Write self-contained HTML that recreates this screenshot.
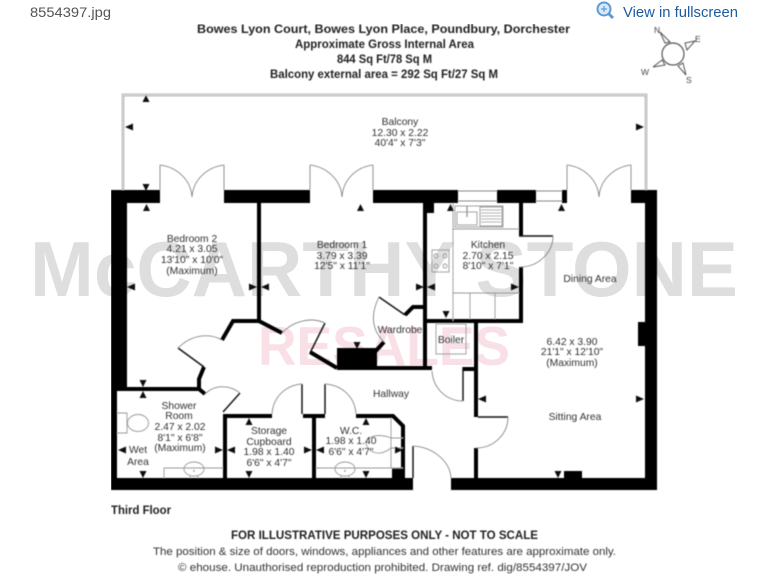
<!DOCTYPE html>
<html><head><meta charset="utf-8"><style>
html,body{margin:0;padding:0;background:#fff;width:768px;height:576px;overflow:hidden}
svg{display:block}
text{font-family:"Liberation Sans",sans-serif}
.r text{font-size:10.3px;fill:#333;text-anchor:middle}
.h text{font-size:11.5px;font-weight:bold;fill:#222;text-anchor:start}
.f text{font-size:11.3px;fill:#333}
.a{fill:none;stroke:#777;stroke-width:.8}
.w{fill:none;stroke:#000;stroke-width:4}
.t{fill:none;stroke:#999;stroke-width:.9}
</style></head><body>
<svg width="768" height="576" viewBox="0 0 768 576" xmlns="http://www.w3.org/2000/svg">
<defs><filter id="b" x="0" y="0" width="100%" height="100%"><feGaussianBlur stdDeviation="0.4"/></filter></defs>
<text x="30" y="17" font-size="14" fill="#555" textLength="81" lengthAdjust="spacingAndGlyphs">8554397.jpg</text>
<text x="623" y="17" font-size="15" fill="#1d5a9e" textLength="115" lengthAdjust="spacingAndGlyphs">View in fullscreen</text>
<g fill="none" stroke="#5b9bd5"><circle cx="604" cy="9" r="6.5" stroke-width="2" fill="#dbe9f7"/><path d="M609 14l4 4" stroke-width="3"/><path d="M601 9h6M604 6v6" stroke-width="1.2"/></g>

<text x="30" y="296" font-size="78" font-weight="bold" fill="#dedede" textLength="708" lengthAdjust="spacingAndGlyphs">McCARTHY STONE</text>
<text x="258" y="365" font-size="55" font-weight="bold" fill="#f8e0e6" textLength="252" lengthAdjust="spacingAndGlyphs">RESALES</text>

<g filter="url(#b)">
<g class="h">
<text x="197" y="33" textLength="373" lengthAdjust="spacingAndGlyphs">Bowes Lyon Court, Bowes Lyon Place, Poundbury, Dorchester</text>
<text x="295" y="48" textLength="179" lengthAdjust="spacingAndGlyphs">Approximate Gross Internal Area</text>
<text x="337" y="63" textLength="95" lengthAdjust="spacingAndGlyphs">844 Sq Ft/78 Sq M</text>
<text x="270" y="78" textLength="228" lengthAdjust="spacingAndGlyphs">Balcony external area = 292 Sq Ft/27 Sq M</text>
<text x="111" y="514" textLength="60" lengthAdjust="spacingAndGlyphs">Third Floor</text>
<text x="231" y="539" textLength="307" lengthAdjust="spacingAndGlyphs">FOR ILLUSTRATIVE PURPOSES ONLY - NOT TO SCALE</text>
</g>
<g class="f">
<text x="153" y="555" textLength="463" lengthAdjust="spacingAndGlyphs">The position &amp; size of doors, windows, appliances and other features are approximate only.</text>
<text x="178" y="571" textLength="409" lengthAdjust="spacingAndGlyphs">© ehouse. Unauthorised reproduction prohibited. Drawing ref. dig/8554397/JOV</text>
</g>

<!-- compass -->
<g fill="none" stroke="#555" stroke-width="1">
<circle cx="673" cy="54" r="11" stroke-width="1.2"/>
<path d="M660 32L665 43L670 42ZM695 41L685 43L687 50ZM653 67L662 60L665 65ZM686 75L678 66L683 63Z"/>
</g>
<g font-size="8.5" fill="#444"><text x="654" y="33">N</text><text x="695" y="42">E</text><text x="641" y="75">W</text><text x="686" y="83">S</text></g>

<!-- balcony -->
<path d="M123 190V95H646V190" fill="none" stroke="#999" stroke-width="2.4"/>
<path d="M123 190V95H646V190" fill="none" stroke="#fff" stroke-width=".7"/>

<!-- thick walls -->
<g fill="#000">
<rect x="111" y="190" width="49" height="13"/><rect x="224" y="190" width="86" height="13"/><rect x="373" y="190" width="85" height="13"/><rect x="497" y="190" width="39" height="13"/><rect x="562" y="190" width="5" height="13"/><rect x="631" y="190" width="26" height="13"/>
<rect x="111" y="190" width="16" height="201"/><rect x="111" y="390" width="6" height="100"/><rect x="645" y="190" width="12" height="300"/>
<rect x="638" y="322" width="8" height="24"/>
<rect x="111" y="478" width="302" height="12"/><rect x="451" y="478" width="206" height="12"/>
<rect x="564" y="471" width="18" height="8"/>
<rect x="427" y="203" width="7" height="10"/>
<rect x="337" y="348" width="40" height="20"/>
<rect x="392" y="468" width="13" height="11"/>
</g>
<g fill="none" stroke="#888" stroke-width="1"><path d="M458 191H497M458 201H497M536 191H562M536 201H562"/></g>

<!-- thin walls -->
<g class="w" stroke-linejoin="miter">
<path d="M259 203V321L282 333"/>
<path d="M259 321H233L222 340"/>
<path d="M204 367L199 379V390"/>
<path d="M117 389H199L205 394"/>
<path d="M225 478V416H272"/>
<path d="M303 416H325M314 416V478"/>
<path d="M356 416H393L403 426V478"/>
<path d="M384 342L373 354"/>
<path d="M337 368H432"/><path d="M337 368L310 352"/>
<path d="M405 315L413 307H425"/>
<path d="M425 203V369"/>
<path d="M427 321H521M521 203V236M521 267V323"/>
<path d="M463 369H476M476 321V417M476 448V479"/>
</g>

<!-- leaves and arcs -->
<g fill="none" stroke="#111" stroke-width="1.4">
<path d="M178 348L204 367M240 393L223 412M302 384V414M325 384V414M325 323L310 353M379 297L405 315M463 367V401M478 417H508M519 236H553M413 446V478"/>
</g>
<g class="a">
<path d="M160 165V190M224 165V190M310 165V190M373 165V190M567 165V190M631 165V190"/>
<path d="M160 165C177 167 191 180 192 197C193 180 207 167 224 165"/>
<path d="M310 165C327 167 341 180 342 197C343 180 356 167 373 165"/>
<path d="M567 165C584 167 598 180 599 197C600 180 614 167 631 165"/>
<path d="M222 340C210 333 192 334 178 348"/>
<path d="M205 394C215 384 230 385 240 393"/>
<path d="M282 333C292 322 310 316 325 323"/>
<path d="M379 297C370 315 372 330 384 342"/>
<path d="M272 414C273 397 286 385 302 384"/>
<path d="M325 384C342 385 355 397 356 414"/>
<path d="M432 371C433 388 446 401 463 401"/>
<path d="M508 417C508 434 494 448 476 448"/>
<path d="M553 236C553 253 538 267 520 267"/>
<path d="M413 446C433 447 450 461 451 478"/>
</g>

<!-- kitchen fittings -->
<g class="t">
<path d="M453 203V321M453 229H519M453 293H519M470 293V319M495 293V319"/>
<rect x="455" y="206" width="48" height="21"/>
<rect x="457" y="212" width="20" height="13"/>
<rect x="480" y="207" width="22" height="19"/>
<path d="M481 210H501M481 213H501M481 216H501M481 219H501M481 222H501" stroke-width=".7"/>
<path d="M467 206V217" stroke-width="1.4"/>
<rect x="432" y="250" width="17" height="22"/>
<circle cx="436" cy="256" r="2"/><circle cx="445" cy="256" r="2"/><circle cx="436" cy="266" r="2"/><circle cx="445" cy="266" r="2"/>
<rect x="436" y="324" width="30" height="30"/>
<!-- shower fittings -->
<path d="M117 413H127V433H117"/>
<ellipse cx="138" cy="423" rx="10.500" ry="8.500"/>
<path d="M164 478V468H223"/>
<ellipse cx="194" cy="469" rx="10" ry="7"/>
<path d="M190 476V478M198 476V478"/>
<!-- wc fittings -->
<path d="M316 468H403M391 418V468M391 438H403M391 448H403"/>
<path d="M391 438C378 433 368 436 366 443C368 453 380 457 391 448"/>
<ellipse cx="345" cy="469" rx="10" ry="7"/>
<path d="M341 476V478M349 476V478"/>
</g>
<circle cx="194" cy="471" r=".7" fill="#666"/><circle cx="345" cy="471" r=".7" fill="#666"/>

<!-- arrowheads -->
<g fill="#111">
<path d="M146 95l-3.500 7h7zM125 127l8 -3.500v7zM146 191l-3.500 -7h7zM143 211l3.500 -7 3.500 7zM357 211l3.500 -7 3.500 7zM447 211l3.500 -7 3.500 7zM558 211l3.500 -7 3.500 7z"/>
<path d="M644 127l-8 -3.500v7z"/>
<path d="M127 287l8 -3.500v7zM257 287l-8 -3.500v7zM261 287l8 -3.500v7zM424 287l-8 -3.500v7zM427 287l8 -3.500v7zM519 287l-8 -3.500v7z"/>
<path d="M446 318l-3.500 -7h7zM357 349l-3.500 -7 h7zM478 399l8 -3.500v7zM644 399l-8 -3.500v7zM558 478l-3.500 -7h7z"/>
<path d="M143 387l-3.500 -7h7zM143 391l-3.500 7h7z"/>
<path d="M118 450l8 -3.500v7zM223 450l-8 -3.500v7zM227 450l8 -3.500v7zM312 450l-8 -3.500v7zM316 450l8 -3.500v7zM403 450l-8 -3.500v7z"/>
<path d="M143 478l-3.500 -7h7zM249 418l-3.500 7h7zM249 478l-3.500 -7h7zM366 418l-3.500 7h7zM366 478l-3.500 -7h7z"/>
</g>

<!-- labels -->
<g class="r">
<text x="400" y="125">Balcony</text><text x="400" y="136">12.30 x 2.22</text><text x="400" y="146">40'4" x 7'3"</text>
<text x="192" y="242">Bedroom 2</text><text x="192" y="252">4.21 x 3.05</text><text x="192" y="263">13'10" x 10'0"</text><text x="192" y="274">(Maximum)</text>
<text x="342" y="248">Bedroom 1</text><text x="342" y="259">3.79 x 3.39</text><text x="342" y="269">12'5" x 11'1"</text>
<text x="488" y="248">Kitchen</text><text x="488" y="259">2.70 x 2.15</text><text x="488" y="269">8'10" x 7'1"</text>
<text x="590" y="282">Dining Area</text>
<text x="400" y="333">Wardrobe</text>
<text x="451" y="343">Boiler</text>
<text x="391" y="397">Hallway</text>
<text x="572" y="345">6.42 x 3.90</text><text x="572" y="355">21'1" x 12'10"</text><text x="572" y="366">(Maximum)</text>
<text x="575" y="420">Sitting Area</text>
<text x="179" y="409">Shower</text><text x="179" y="419">Room</text><text x="180" y="430">2.47 x 2.02</text><text x="180" y="441">8'1" x 6'8"</text><text x="180" y="451">(Maximum)</text>
<text x="138" y="453">Wet</text><text x="138" y="465">Area</text>
<text x="269" y="434">Storage</text><text x="269" y="445">Cupboard</text><text x="269" y="455">1.98 x 1.40</text><text x="269" y="466">6'6" x 4'7"</text>
<text x="351" y="434">W.C.</text><text x="351" y="444">1.98 x 1.40</text><text x="351" y="455">6'6" x 4'7"</text>
</g>
</g>
</svg>
</body></html>
